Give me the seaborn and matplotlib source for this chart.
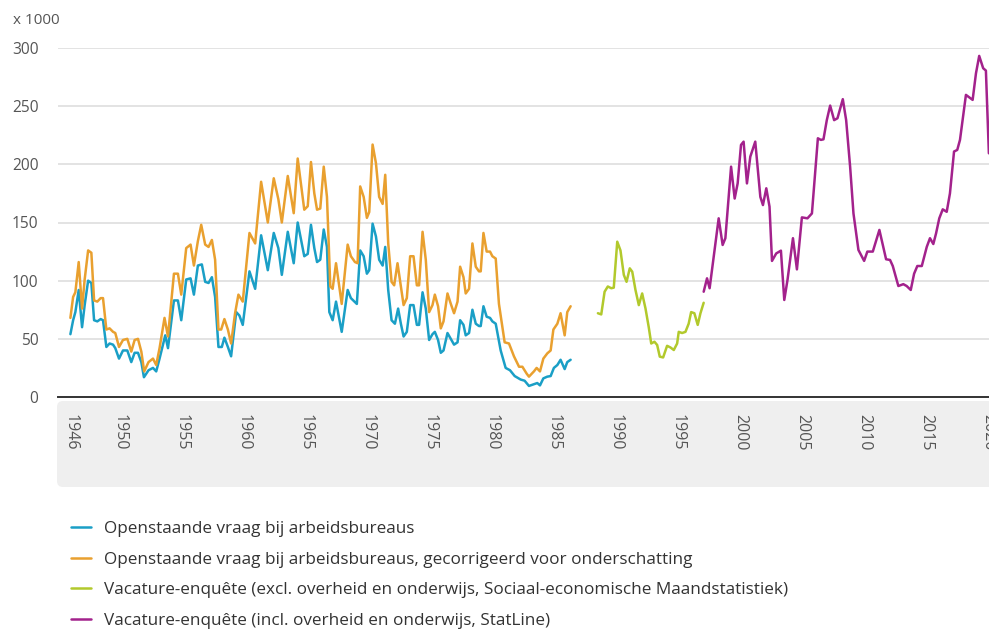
import pandas as pd
import seaborn as sns
import matplotlib.pyplot as plt
from matplotlib.patches import FancyBboxPatch

# Openstaande vraag bij arbeidsbureaus (x 1000)
arb_jaar = [1946.00, 1946.22, 1946.40, 1946.67, 1946.94, 1947.15, 1947.43, 1947.69, 1947.91,
            1948.17, 1948.44, 1948.63, 1948.90, 1949.16, 1949.44, 1949.62, 1949.92, 1950.24,
            1950.59, 1950.91, 1951.18, 1951.45, 1951.72, 1951.93, 1952.30, 1952.66, 1952.92,
            1953.19, 1953.65, 1953.87, 1954.35, 1954.67, 1954.94, 1955.34, 1955.69, 1955.96,
            1956.28, 1956.60, 1956.87, 1957.14, 1957.41, 1957.67, 1957.94, 1958.21, 1958.42,
            1958.70, 1958.96, 1959.37, 1959.63, 1959.90, 1960.44, 1960.90, 1961.38, 1961.92,
            1962.40, 1962.77, 1963.05, 1963.53, 1964.01, 1964.33, 1964.86, 1965.14, 1965.40,
            1965.67, 1965.89, 1966.15, 1966.43, 1966.69, 1966.88, 1967.15, 1967.42, 1967.88,
            1968.36, 1968.62, 1969.10, 1969.37, 1969.65, 1969.91, 1970.10, 1970.37, 1970.64,
            1970.90, 1971.18, 1971.39, 1971.63, 1971.90, 1972.17, 1972.43, 1972.65, 1972.87,
            1973.13, 1973.40, 1973.67, 1973.94, 1974.12, 1974.40, 1974.66, 1974.93, 1975.20,
            1975.39, 1975.65, 1975.87, 1976.09, 1976.41, 1976.68, 1976.94, 1977.22, 1977.43,
            1977.70, 1977.88, 1978.15, 1978.42, 1978.69, 1978.95, 1979.09, 1979.31, 1979.57,
            1979.84, 1980.03, 1980.30, 1980.70, 1981.10, 1981.45, 1981.83, 1982.31, 1982.63,
            1982.98, 1983.38, 1983.65, 1983.87, 1984.14, 1984.46, 1984.73, 1984.99, 1985.27,
            1985.53, 1985.86, 1986.07, 1986.34]
arb_waarde = [54, 66, 73, 92, 60, 79, 100, 98, 66,
              65, 67, 66, 43, 46, 45, 42, 33, 40,
              40, 30, 38, 38, 30, 17, 23, 25, 22,
              33, 53, 42, 83, 83, 66, 101, 102, 88,
              113, 114, 99, 98, 103, 86, 43, 43, 51,
              43, 35, 73, 70, 62, 108, 93, 139, 109,
              141, 128, 105, 142, 115, 150, 121, 123, 148,
              128, 116, 118, 144, 129, 73, 66, 82, 56,
              92, 85, 80, 126, 121, 106, 109, 149, 138,
              118, 113, 129, 92, 66, 63, 76, 63, 52,
              56, 79, 79, 62, 62, 90, 76, 49, 54,
              56, 49, 38, 40, 55, 50, 45, 47, 66,
              62, 53, 55, 75, 63, 61, 61, 78, 69,
              68, 65, 63, 40, 25, 23, 18, 15, 14,
              9.5, 11, 12, 10, 16, 17.5, 18, 25, 27.5,
              32, 24, 30, 32]

# Openstaande vraag bij arbeidsbureaus, gecorrigeerd voor onderschatting
corr_jaar = [1946.00, 1946.22, 1946.40, 1946.67, 1946.94, 1947.15, 1947.43, 1947.69, 1947.91,
             1948.17, 1948.44, 1948.63, 1948.90, 1949.16, 1949.44, 1949.62, 1949.92, 1950.24,
             1950.59, 1950.91, 1951.18, 1951.45, 1951.72, 1951.95, 1952.30, 1952.66, 1952.92,
             1953.19, 1953.59, 1953.87, 1954.35, 1954.67, 1954.94, 1955.34, 1955.69, 1955.96,
             1956.28, 1956.55, 1956.87, 1957.14, 1957.41, 1957.67, 1957.94, 1958.16, 1958.42,
             1958.70, 1958.96, 1959.28, 1959.55, 1959.90, 1960.44, 1960.90, 1961.38, 1961.92,
             1962.40, 1962.77, 1963.05, 1963.53, 1964.01, 1964.33, 1964.86, 1965.14, 1965.40,
             1965.67, 1965.89, 1966.15, 1966.43, 1966.69, 1966.96, 1967.15, 1967.42, 1967.88,
             1968.36, 1968.62, 1968.95, 1969.16, 1969.37, 1969.65, 1969.91, 1970.10, 1970.37,
             1970.64, 1970.90, 1971.18, 1971.39, 1971.63, 1971.90, 1972.11, 1972.38, 1972.65,
             1972.87, 1973.13, 1973.40, 1973.67, 1973.94, 1974.12, 1974.40, 1974.66, 1974.93,
             1975.20, 1975.39, 1975.65, 1975.87, 1976.09, 1976.41, 1976.68, 1976.94, 1977.22,
             1977.43, 1977.70, 1977.88, 1978.15, 1978.42, 1978.69, 1978.95, 1979.09, 1979.31,
             1979.57, 1979.84, 1980.03, 1980.30, 1980.56, 1981.02, 1981.37, 1981.77, 1982.18,
             1982.45, 1982.80, 1982.98, 1983.38, 1983.60, 1983.87, 1984.14, 1984.46, 1984.73,
             1984.95, 1985.27, 1985.53, 1985.86, 1986.07, 1986.34]
corr_waarde = [68, 86, 90, 116, 76, 101, 126, 124, 83,
               82, 85, 85, 58, 59, 56, 55, 43, 49,
               50, 39, 49, 50, 39, 22, 30, 33, 27.5,
               42, 68, 52, 106, 106, 88, 128, 131, 113,
               134, 148, 131, 129, 135, 118, 58, 58, 67,
               58, 46, 72, 88, 82, 141, 132, 185, 150,
               188, 170, 150, 190, 158, 205, 161, 164, 202,
               175, 161, 162, 198, 172, 95, 93, 115, 80,
               131, 121, 116, 115, 181, 172, 154, 159, 217,
               201, 172, 166, 191, 132, 99, 96, 115, 95,
               79, 85, 121, 121, 96, 96, 142, 118, 73,
               79, 88, 78, 59, 65, 89, 80, 72, 82,
               112, 103, 89, 93, 132, 112, 108, 108, 141,
               125, 125, 121, 119, 80, 47, 46, 35, 26,
               26, 20, 17.5, 22, 25, 22, 33, 37.5, 40,
               58, 63, 72, 53, 73, 78]

# Vacature-enquête, Sociaal-economische Maandstatistiek
sem_jaar = [1988.54, 1988.81, 1989.08, 1989.34, 1989.62, 1989.82, 1990.10, 1990.36, 1990.63,
            1990.85, 1991.11, 1991.31, 1991.57, 1991.84, 1992.11, 1992.38, 1992.64, 1992.84,
            1993.10, 1993.32, 1993.53, 1993.80, 1994.12, 1994.39, 1994.66, 1994.93, 1995.06,
            1995.33, 1995.60, 1995.86, 1996.06, 1996.32, 1996.59, 1996.81, 1997.07]
sem_waarde = [72, 71, 90.5, 95, 93.5, 94, 133.5, 126, 105,
              99, 110.6, 107.7, 92, 79, 89, 76, 60, 46,
              47.5, 44.7, 34.7, 34, 44, 42.6, 40.4, 46, 56,
              55, 56, 63, 73, 72, 62, 72, 81]

# Vacature-enquête, StatLine
stat_jaar = [1997.07, 1997.34, 1997.55, 1998.28, 1998.60, 1998.82, 1999.28, 1999.57, 1999.81,
             2000.08, 2000.29, 2000.56, 2000.83, 2001.23, 2001.64, 2001.85, 2002.12, 2002.38,
             2002.58, 2002.92, 2003.30, 2003.57, 2003.83, 2004.27, 2004.59, 2004.99, 2005.44,
             2005.80, 2006.28, 2006.52, 2006.73, 2007.00, 2007.27, 2007.59, 2007.86, 2008.29,
             2008.56, 2008.88, 2009.15, 2009.55, 2010.01, 2010.27, 2010.71, 2011.24, 2011.78,
             2012.10, 2012.32, 2012.77, 2013.17, 2013.44, 2013.77, 2014.04, 2014.30, 2014.66,
             2015.06, 2015.32, 2015.59, 2015.81, 2016.07, 2016.35, 2016.67, 2016.93, 2017.26,
             2017.52, 2017.74, 2018.22, 2018.76, 2019.03, 2019.29, 2019.61, 2019.83, 2020.07]
stat_waarde = [90.5, 102, 93.5, 153.6, 130.7, 136.5, 198, 170.6, 183.6,
               216.7, 219.5, 183.6, 206.6, 219.5, 172, 165, 179.4, 163.6,
               117, 123.4, 125.8, 83.4, 100.6, 136.5, 109.7, 154.4, 153.6,
               157.8, 222.4, 221, 221.5, 238, 250.5, 238, 239.6, 256,
               238, 198, 157.8, 126.4, 117, 125, 125, 143.6, 118.4,
               117.8, 112.6, 95.4, 97, 95.4, 92, 106, 112.6, 112.6,
               129, 136.5, 131.5, 140.6, 153.6, 161.3, 159.2, 175, 211,
               212.4, 221, 259.7, 255.4, 278.3, 293.2, 282.6, 280.6, 209.5]

reeksen = [
    "Openstaande vraag bij arbeidsbureaus",
    "Openstaande vraag bij arbeidsbureaus, gecorrigeerd voor onderschatting",
    "Vacature-enquête (excl. overheid en onderwijs, Sociaal-economische Maandstatistiek)",
    "Vacature-enquête (incl. overheid en onderwijs, StatLine)",
]
kleuren = ["#1a9fc6", "#e9a02f", "#b2c92c", "#a3228c"]

frames = []
for naam, xs, ys in zip(reeksen,
                        [arb_jaar, corr_jaar, sem_jaar, stat_jaar],
                        [arb_waarde, corr_waarde, sem_waarde, stat_waarde]):
    frames.append(pd.DataFrame({"jaar": xs, "vacatures": ys, "reeks": naam}))
df = pd.concat(frames, ignore_index=True)

sns.set_style("white")
plt.rcParams["font.family"] = ["Open Sans", "DejaVu Sans"]

W, H = 989, 633
fig = plt.figure(figsize=(W / 100, H / 100), dpi=100)
ax = fig.add_axes([58 / W, 1 - 397 / H, 1 - 58 / W, 349 / H])
ax.patch.set_alpha(0)

# grey band behind the year labels (drawn below the axes)
band = FancyBboxPatch((57 / W, 1 - 487 / H), 1.0, 86 / H,
                      boxstyle="round,pad=0,rounding_size=0.006",
                      mutation_aspect=W / H,
                      transform=fig.transFigure, facecolor="#efefef",
                      edgecolor="none", zorder=-1)
fig.patches.append(band)

sns.lineplot(data=df, x="jaar", y="vacatures", hue="reeks", hue_order=reeksen,
             palette=kleuren, estimator=None, sort=False, linewidth=1.8, ax=ax)

ax.set_xlim(1945.07, 2020.08)
ax.set_ylim(0, 300)
ax.set_yticks(range(0, 301, 50))
ax.set_axisbelow(True)
ax.yaxis.grid(True, color="#dedede", linewidth=1.2)
ax.xaxis.grid(False)
for s in ["top", "right", "left"]:
    ax.spines[s].set_visible(False)
ax.spines["bottom"].set_color("#333333")
ax.spines["bottom"].set_linewidth(1.4)

jaren = list(range(1945, 2021))
jaar_labels = [str(j) if j == 1946 or (j % 5 == 0 and j > 1946) else "" for j in jaren]
ax.set_xticks(jaren, jaar_labels, rotation=-90)
ax.tick_params(axis="x", length=7, width=1, color="#333333", labelcolor="#555555",
               labelsize=11.5, pad=5)
ax.tick_params(axis="y", length=0, labelcolor="#555555", labelsize=11.2, pad=14)
ax.set_xlabel("")
ax.set_ylabel("")

fig.text(13 / W, 1 - 21 / H, "x 1000", ha="left", va="center", color="#555555", fontsize=11)

leg = ax.get_legend()
handles = leg.legend_handles
labels = [t.get_text() for t in leg.texts]
leg.remove()
fig.legend(handles, labels, loc="upper left", bbox_to_anchor=(64 / W, 1 - 514 / H),
           frameon=False, fontsize=12.3, handlelength=1.2, handletextpad=0.75,
           labelspacing=0.86, borderaxespad=0, labelcolor="#333333")

fig.savefig("out.png", dpi=100)
